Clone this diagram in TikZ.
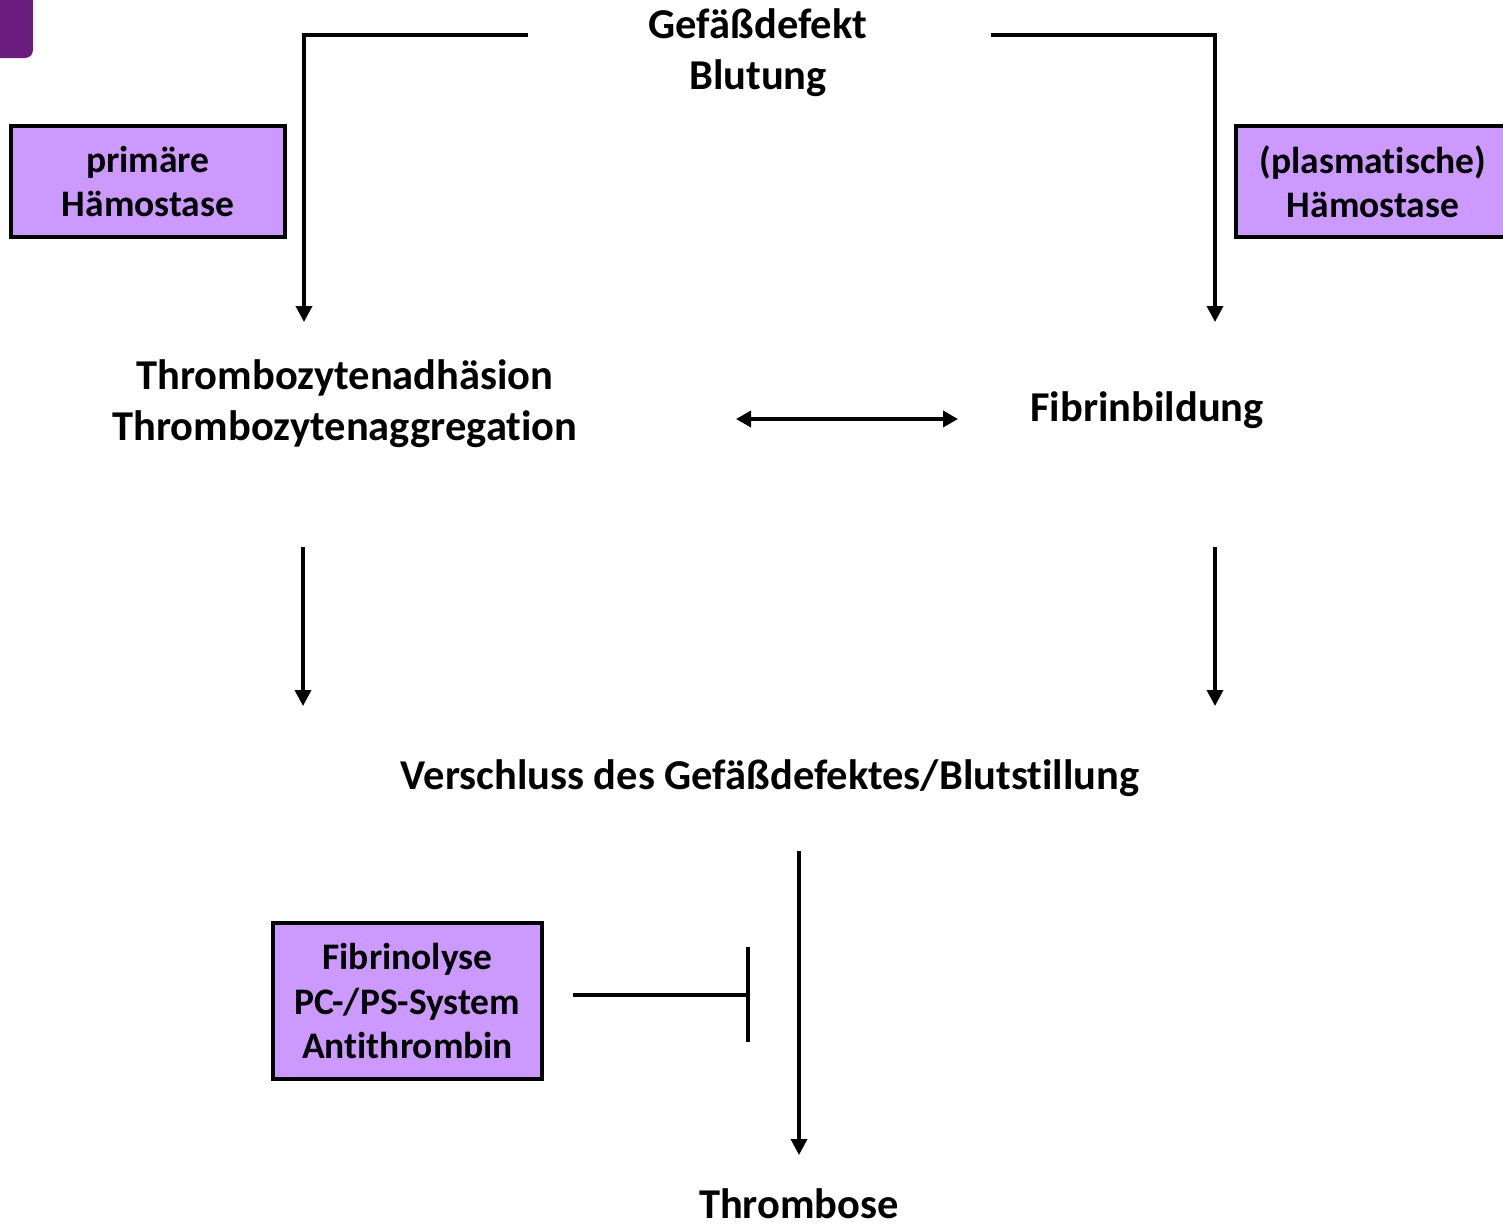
\documentclass[tikz,border=0pt]{standalone}
\usepackage{fontspec}
\setmainfont{Carlito}[Ligatures=NoCommon]
\usetikzlibrary{arrows.meta}
\definecolor{boxfill}{HTML}{CC99FF}
\definecolor{cornerpurple}{HTML}{6A1D7E}
\begin{document}
\begin{tikzpicture}[x=1pt,y=-1pt,
  lbl/.style={font=\fontsize{42.5}{51}\selectfont\bfseries, align=center, inner sep=0pt},
  tag/.style={draw=black, line width=3.5pt, fill=boxfill, align=center, inner sep=0pt,
    font=\fontsize{37.5}{44.5}\selectfont\bfseries},
  flow/.style={line width=3.5pt, -{Triangle[width=16pt,length=16pt]}},
  both/.style={line width=3.5pt, {Triangle[width=16pt,length=15pt]}-{Triangle[width=16pt,length=15pt]}},
  plain/.style={line width=3.5pt}]
\useasboundingbox (0,0) rectangle (1503,1226);
% corner mark
\fill[cornerpurple, rounded corners=8pt] (-20,-20) rectangle (33,58);

% labels
\node[lbl] (top) at (758,53) {Gefäßdefekt\\Blutung};
\node[lbl] (thr) at (345,404) {Thrombozytenadhäsion\\Thrombozytenaggregation};
\node[lbl] (fib) at (1147,410) {Fibrinbildung};
\node[lbl] (ver) at (770,778) {Verschluss des Gefäßdefektes/Blutstillung};
\node[lbl, anchor=base, text depth=0pt] (thb) at (799,1218) {Thrombose};

% boxes
\node[tag, minimum width=274pt, minimum height=111pt] (prim) at (148,181.5) {primäre\\Hämostase};
\node[tag, minimum width=274pt, minimum height=111pt] (plas) at (1373,181.5) {(plasmatische)\\Hämostase};
\node[tag, minimum width=269pt, minimum height=156pt] (fibr) at (407.5,1001) {Fibrinolyse\\PC-/PS-System\\Antithrombin};

% connector end points
\coordinate (tl) at (528,35);
\coordinate (tr) at (991,35);
\coordinate (al) at (304,322);
\coordinate (ar) at (1215,322);
\coordinate (dl0) at (303,547);
\coordinate (dl1) at (303,706);
\coordinate (dr0) at (1215,547);
\coordinate (dr1) at (1215,706);
\coordinate (bl) at (736,419);
\coordinate (br) at (958,419);
\coordinate (v0) at (799,851);
\coordinate (v1) at (799,1155);
\coordinate (h0) at (573,995);
\coordinate (h1) at (748,995);
\coordinate (b0) at (748,947);
\coordinate (b1) at (748,1042);

% connectors
\draw[flow] (tl) -| (al);
\draw[flow] (tr) -| (ar);
\draw[both] (bl) -- (br);
\draw[flow] (dl0) -- (dl1);
\draw[flow] (dr0) -- (dr1);
\draw[flow] (v0) -- (v1);
\draw[plain] (h0) -- (h1);
\draw[plain] (b0) -- (b1);
\end{tikzpicture}
\end{document}
